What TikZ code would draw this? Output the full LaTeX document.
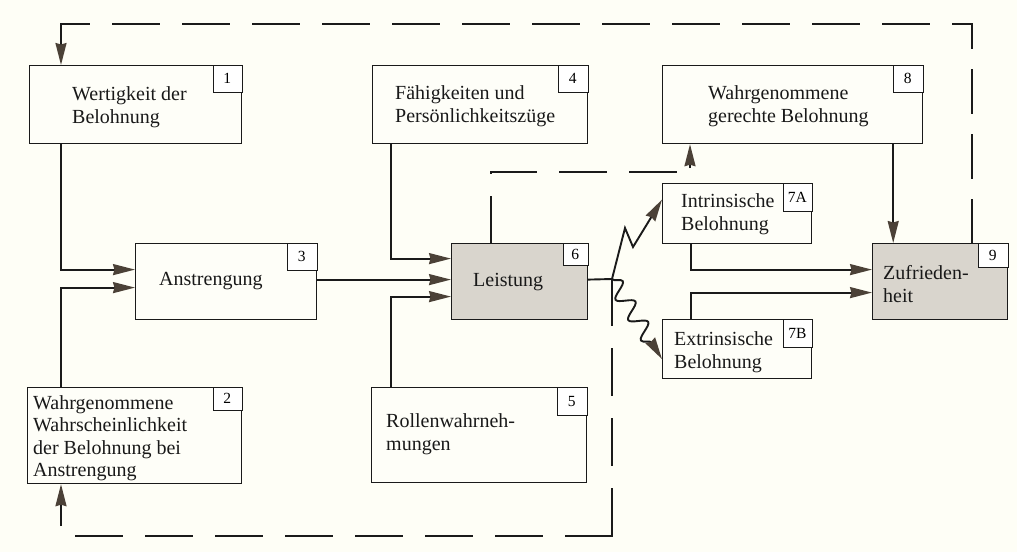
\documentclass[tikz,border=0pt]{standalone}
\usepackage{fontspec}
\setmainfont{Liberation Serif}
\usetikzlibrary{arrows.meta,decorations.pathmorphing,calc}
\definecolor{bgc}{HTML}{FEFEF6}
\definecolor{greyc}{HTML}{D9D5CD}
\definecolor{linec}{HTML}{1A1A1A}
\definecolor{arrc}{HTML}{4B4137}
\definecolor{boxc}{HTML}{FEFEF8}
\newcommand{\mainfnt}{\fontsize{20}{22.5}\selectfont}
\newcommand{\numfnt}{\fontsize{15.5}{17}\selectfont}
\begin{document}
\begin{tikzpicture}[x=1pt,y=-1pt,
  boxst/.style={draw=linec, line width=1.2pt, fill=boxc, anchor=north west, inner sep=0pt},
  greybox/.style={boxst, fill=greyc},
  numst/.style={draw=linec, line width=0.7pt, fill=white, anchor=north east, inner sep=0pt, font=\numfnt},
  txt/.style={anchor=west, align=left, inner sep=0pt, font=\mainfnt, text=black!90},
  conn/.style={draw=linec, line width=1.9pt, -{Stealth[length=22pt,width=11pt,inset=1.5pt,color=arrc]}},
  plain/.style={draw=linec, line width=1.9pt},
  dashst/.style={draw=linec, line width=2.4pt, line cap=rect, dash pattern=on 46pt off 24pt},
  dashsh/.style={draw=linec, line width=2.4pt, line cap=rect, dash pattern=on 43pt off 22pt}
]
\fill[bgc] (0,0) rectangle (1017,552);
\useasboundingbox (0,0) rectangle (1017,552);

% boxes
\node[boxst, minimum width=212pt, minimum height=78pt] (b1) at (29,65) {};
\node[numst, minimum width=29pt, minimum height=27pt] (n1) at (b1.north east) {1};
\node[txt] (t1) at (72,107) {Wertigkeit der\\Belohnung};

\node[boxst, minimum width=215pt, minimum height=78pt] (b4) at (372,65) {};
\node[numst, minimum width=30pt, minimum height=27pt] (n4) at (b4.north east) {4};
\node[txt] (t4) at (395,106) {Fähigkeiten und\\Persönlichkeitszüge};

\node[boxst, minimum width=260pt, minimum height=78pt] (b8) at (662,65) {};
\node[numst, minimum width=30pt, minimum height=27pt] (n8) at (b8.north east) {8};
\node[txt] (t8) at (708,106) {Wahrgenommene\\gerechte Belohnung};

\node[boxst, minimum width=181pt, minimum height=76pt] (b3) at (135,243) {};
\node[numst, minimum width=30pt, minimum height=27pt] (n3) at (b3.north east) {3};
\node[txt] (t3) at (159,281) {Anstrengung};

\node[greybox, minimum width=136pt, minimum height=76pt] (b6) at (451,243) {};
\node[numst, minimum width=25pt, minimum height=22pt] (n6) at (b6.north east) {6};
\node[txt] (t6) at (473,282) {Leistung};

\node[boxst, minimum width=149pt, minimum height=60pt] (b7a) at (662,183) {};
\node[numst, minimum width=29pt, minimum height=28pt] (n7a) at (b7a.north east) {7A};
\node[txt] (t7a) at (681,214) {Intrinsische\\Belohnung};

\node[boxst, minimum width=149pt, minimum height=59pt] (b7b) at (662,319) {};
\node[numst, minimum width=29pt, minimum height=28pt] (n7b) at (b7b.north east) {7B};
\node[txt] (t7b) at (674,352) {Extrinsische\\Belohnung};

\node[greybox, minimum width=135pt, minimum height=76pt] (b9) at (872,243) {};
\node[numst, minimum width=30pt, minimum height=24pt] (n9) at (b9.north east) {9};
\node[txt] (t9) at (883,284) {Zufrieden-\\heit};

\node[boxst, minimum width=214pt, minimum height=96pt] (b2) at (27,387) {};
\node[numst, minimum width=29pt, minimum height=23pt] (n2) at (b2.north east) {2};
\node[txt] (t2) at (33,438) {Wahrgenommene\\Wahrscheinlichkeit\\der Belohnung bei\\Anstrengung};

\node[boxst, minimum width=215pt, minimum height=95pt] (b5) at (371,387) {};
\node[numst, minimum width=30pt, minimum height=28pt] (n5) at (b5.north east) {5};
\node[txt] (t5) at (386,434) {Rollenwahrneh-\\mungen};

% coordinates
\coordinate (j) at (612,279);
\coordinate (z1) at (625,228);
\coordinate (z2) at (633,247);
\coordinate (ctr) at (972,24);
\coordinate (ctl) at (61,24);
\coordinate (c8) at (690,172);
\coordinate (cbr) at (612,536);
\coordinate (cbl) at (61,536);

% solid connectors
\draw[conn] ([xshift=32pt]b1.south west) |- ([yshift=12pt]b3.west);
\draw[conn] ([xshift=34pt]b2.north west) |- ([yshift=-6pt]b3.west);
\draw[conn] ([yshift=2pt]b3.east) -- ([yshift=2pt]b6.west);
\draw[conn] ([xshift=19pt]b4.south west) |- ([yshift=23pt]b6.west);
\draw[conn] ([xshift=20pt]b5.north west) |- ([yshift=-15pt]b6.west);
\draw[plain] ([yshift=2pt]b6.east) -- (j);
\draw[conn] (j) -- (z1) -- (z2) -- ([yshift=14pt]b7a.west);
\draw[conn, decorate, decoration={snake, amplitude=8pt, segment length=24pt, post length=16pt}] (j) -- ([yshift=-10pt]b7b.west);
\draw[conn] ([xshift=29pt]b7a.south west) |- ([yshift=12pt]b9.west);
\draw[conn] ([xshift=29pt]b7b.north west) |- ([yshift=-11pt]b9.west);
\draw[conn] ([xshift=-30pt]b8.south east) -- ([xshift=-30pt]b8.south east |- b9.north);

% dashed feedback loops
\draw[dashsh] ([xshift=100pt]b9.north west) -- (ctr);
\draw[dashst, dash phase=27pt] (ctr) -- (ctl);
\draw[conn] (ctl) -- (ctl |- b1.north);
\draw[dashst] ([xshift=40pt]b6.north west) |- (c8);
\draw[conn] ([yshift=4pt]c8) -- (c8 |- b8.south);
\draw[dashst] (j) -- (cbr);
\draw[dashst] (cbr) -- (cbl);
\draw[conn] ([yshift=10pt]cbl) -- (cbl |- b2.south);
\end{tikzpicture}
\end{document}
